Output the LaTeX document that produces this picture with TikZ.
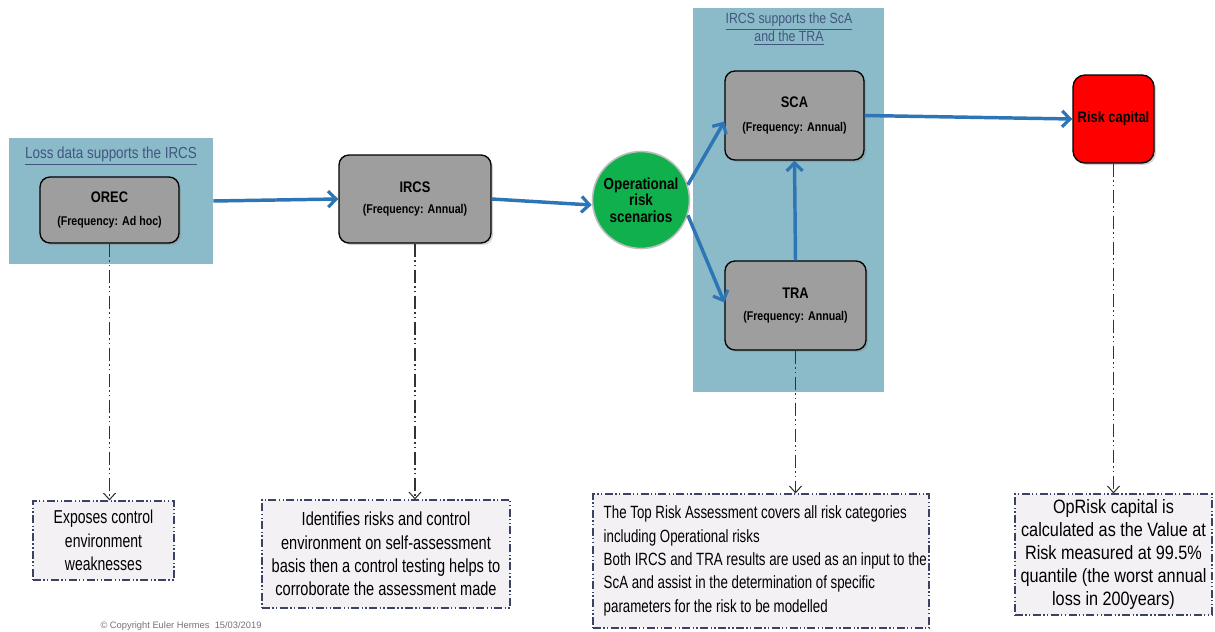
\documentclass[tikz,border=0pt]{standalone}
\usepackage{fontspec}
\setmainfont{Liberation Sans}[FakeStretch=0.84]
\newfontfamily\plainfont{Liberation Sans}
\newfontfamily\notefontA{Liberation Sans}[FakeStretch=0.75]
\newfontfamily\notefontB{Liberation Sans}[FakeStretch=0.77]
\newfontfamily\notefontC{Liberation Sans}[FakeStretch=0.84]
\usetikzlibrary{arrows.meta,shadows,calc}
\definecolor{panelc}{RGB}{139,187,201}
\definecolor{titlec}{RGB}{66,86,128}
\definecolor{boxgray}{RGB}{158,158,158}
\definecolor{greenc}{RGB}{16,176,76}
\definecolor{bluec}{RGB}{46,117,182}
\definecolor{notefill}{RGB}{243,241,244}
\definecolor{notedraw}{RGB}{60,66,100}
\tikzset{
  panel/.style={fill=panelc, draw=none, inner sep=0pt},
  ptitle/.style={text=titlec, align=center, inner sep=0pt},
  gbox/.style={draw=black, line width=1pt, fill=boxgray, rounded corners=7.5pt, inner sep=0pt, align=center,
    drop shadow={shadow xshift=1.5pt, shadow yshift=-1.5pt, opacity=0.35}},
  rbox/.style={draw=black, line width=1pt, fill=red, rounded corners=9pt, inner sep=0pt, align=center,
    font=\fontsize{11.5}{14}\selectfont\bfseries,
    drop shadow={shadow xshift=1.5pt, shadow yshift=-1.5pt, opacity=0.35}},
  circ/.style={circle, draw=black!25, line width=1.2pt, fill=greenc, inner sep=0pt, align=center,
    font=\fontsize{12}{12.4}\selectfont\bfseries},
  flow/.style={draw=bluec, line width=2.6pt, -{Straight Barb[length=6pt, width=12pt, line width=2.4pt]}},
  note/.style={draw=notedraw, line width=0.8pt, fill=notefill, inner sep=0pt,
    dash pattern=on 6pt off 1.8pt on 1pt off 1.8pt on 1pt off 1.8pt},
  link/.style={draw=black!80, line width=0.9pt,
    dash pattern=on 10pt off 2.5pt on 1pt off 2.5pt on 1pt off 2.5pt,
    -{Straight Barb[length=5pt, width=9pt, line width=0.8pt]}}
}
\newcommand{\boxttl}[1]{{\fontsize{11.5}{17}\selectfont\bfseries #1}}
\newcommand{\freqtxt}[1]{{\fontsize{9.5}{17}\selectfont\bfseries #1}}
\begin{document}
\begin{tikzpicture}[x=0.75pt, y=-0.75pt]
\useasboundingbox (0,0) rectangle (1215,632);
% panels
\node[panel, minimum width=153pt, minimum height=94.5pt] (lpanel) at (111,201) {};
\node[panel, minimum width=143.25pt, minimum height=288pt] (rpanel) at (788.5,200) {};
\node[ptitle, font=\fontsize{12}{13.5}\selectfont] (lt) at (111,156) {\underline{Loss data supports the IRCS}};
\node[ptitle, font=\fontsize{11}{13.5}\selectfont] (rt) at (789,29) {\underline{IRCS supports the ScA}\\\underline{and the TRA}};
% process boxes
\node[gbox, minimum width=104.25pt, minimum height=49.5pt] (orec) at (109.5,210) {\boxttl{OREC}\\[5.5pt]\freqtxt{(Frequency: Ad hoc)}};
\node[gbox, minimum width=114pt, minimum height=66pt] (ircs) at (415,199) {\boxttl{IRCS}\\[4.25pt]\freqtxt{(Frequency: Annual)}};
\node[gbox, minimum width=104.25pt, minimum height=66.75pt] (sca) at (794.5,115.5) {\boxttl{SCA}\\[6.25pt]\freqtxt{(Frequency: Annual)}};
\node[gbox, minimum width=105.75pt, minimum height=66.75pt] (tra) at (795.5,305.5) {\boxttl{TRA}\\[4.75pt]\freqtxt{(Frequency: Annual)}};
\node[rbox, minimum width=60.75pt, minimum height=66pt] (rc) at (1113.5,119) {\raisebox{-2pt}{Risk capital}};
\node[circ, minimum size=72.75pt] (scen) at (641,200) {Operational\\risk\\scenarios};
% notes
\node[note, minimum width=105.75pt, minimum height=59.25pt, align=center,
  font=\notefontA\fontsize{14}{17.5}\selectfont] (n1) at (103.5,540.5) {Exposes control\\environment\\weaknesses};
\node[note, minimum width=186pt, minimum height=81pt, align=center,
  font=\notefontB\fontsize{14.2}{17.6}\selectfont] (n2) at (386,554) {Identifies risks and control\\environment on self-assessment\\basis then a control testing helps to\\corroborate the assessment made};
\node[note, minimum width=252pt, minimum height=100.5pt] (n3) at (761,561) {};
\node[anchor=west, align=left, inner sep=0pt, font=\notefontA\fontsize{13.3}{17.5}\selectfont] (n3t) at ($(n3.west)+(11,0)$) {The Top Risk Assessment covers all risk categories\\including Operational risks\\Both IRCS and TRA results are used as an input to the\\ScA and assist in the determination of specific\\parameters for the risk to be modelled};
\node[note, minimum width=147.75pt, minimum height=90.75pt, align=center,
  font=\notefontC\fontsize{14.5}{17.3}\selectfont] (n4) at (1113.5,554.5) {OpRisk capital is\\calculated as the Value at\\Risk measured at 99.5\%\\quantile (the worst annual\\loss in 200years)};
% copyright
\node[text=black!55, font=\plainfont\fontsize{7}{9}\selectfont, inner sep=0pt] (copy) at (181,626) {\textcopyright\ Copyright Euler Hermes\ \ 15/03/2019};
% flows
\draw[flow] (lpanel.east) -- (ircs.west);
\draw[flow] (ircs.east) -- ($(scen.west)+(0,5)$);
\draw[flow] (scen.18) -- ($(sca.west)+(0,6)$);
\draw[flow] (scen.-18) -- ($(tra.west)+(0,-3)$);
\draw[flow] (tra.north) -- (sca.south);
\draw[flow] (sca.east) -- (rc.west);
% links
\draw[link] (orec.south) -- (orec.south |- n1.north);
\draw[link] (ircs.south) -- (ircs.south |- n2.north);
\draw[link] (tra.south) -- (tra.south |- n3.north);
\draw[link] (rc.south) -- (rc.south |- n4.north);
\end{tikzpicture}
\end{document}
